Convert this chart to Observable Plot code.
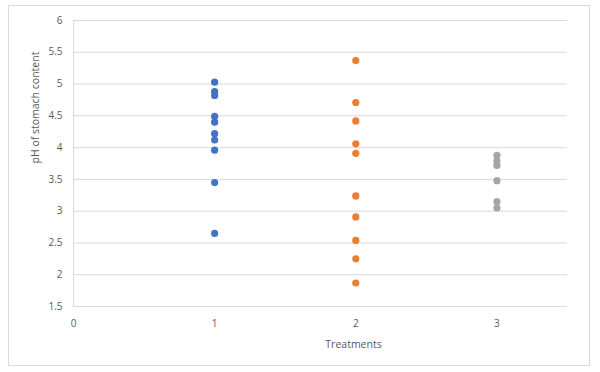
<!DOCTYPE html>
<html>
<head>
<meta charset="utf-8">
<script src="https://cdn.jsdelivr.net/npm/d3@7"></script>
<script src="https://cdn.jsdelivr.net/npm/@observablehq/plot@0.6"></script>
<style>
  html, body { margin: 0; padding: 0; background: #fff; }
  #wrap { position: relative; width: 600px; height: 372px; }
  #border { position: absolute; left: 8px; top: 5px; width: 580px; height: 359px; border: 1px solid #d9d9d9; pointer-events: none; }
</style>
</head>
<body>
<div id="wrap"><div id="border"></div></div>
<script>
const treatments = [1, 2, 3];
const treatment1 = [5.03, 4.88, 4.82, 4.49, 4.40, 4.22, 4.12, 3.96, 3.45, 2.65];
const treatment2 = [5.37, 4.71, 4.42, 4.06, 3.91, 3.24, 2.91, 2.54, 2.25, 1.87];
const treatment3 = [3.88, 3.79, 3.72, 3.48, 3.15, 3.05];
const colors = ["#4472C4", "#ED7D31", "#A5A5A5"];
const xTicks = [0, 1, 2, 3];
const yTicks = [1.5, 2, 2.5, 3, 3.5, 4, 4.5, 5, 5.5, 6];

const series = [treatment1, treatment2, treatment3];
const data = series.flatMap((vals, i) => vals.map(v => ({treatment: treatments[i], ph: v, group: "T" + treatments[i]})));

const font = "'Open Sans', 'Noto Sans', sans-serif";
const fmt = d => String(d);
const chart = Plot.plot({
  width: 600,
  height: 372,
  marginLeft: 73,
  marginRight: 33,
  marginTop: 20,
  marginBottom: 66,
  style: {fontFamily: font, fontSize: "10px", color: "#595959", background: "transparent"},
  x: {domain: [0, 3.5]},
  y: {domain: [1.5, 6]},
  color: {domain: ["T1", "T2", "T3"], range: colors},
  marks: [
    Plot.gridY(yTicks, {stroke: "#d9d9d9", strokeOpacity: 1, strokeWidth: 1}),
    Plot.ruleX([0], {stroke: "#d9d9d9"}),
    Plot.ruleY([1.5], {stroke: "#d9d9d9"}),
    Plot.axisY(yTicks, {tickSize: 0, tickPadding: 11, label: null, fill: "#595959", tickFormat: fmt}),
    Plot.axisX(xTicks, {tickSize: 0, tickPadding: 13, label: null, fill: "#595959", tickFormat: fmt}),
    Plot.dot(data, {x: "treatment", y: "ph", fill: "group", r: 3.6, stroke: null}),
    Plot.text(["Treatments"], {frameAnchor: "bottom", dx: 33, dy: 41, fill: "#595959", fontSize: 10.5}),
    Plot.text(["pH of stomach content"], {frameAnchor: "left", dx: -38, rotate: -90, fill: "#595959", fontSize: 10.5})
  ]
});
document.getElementById("wrap").prepend(chart);
</script>
</body>
</html>
